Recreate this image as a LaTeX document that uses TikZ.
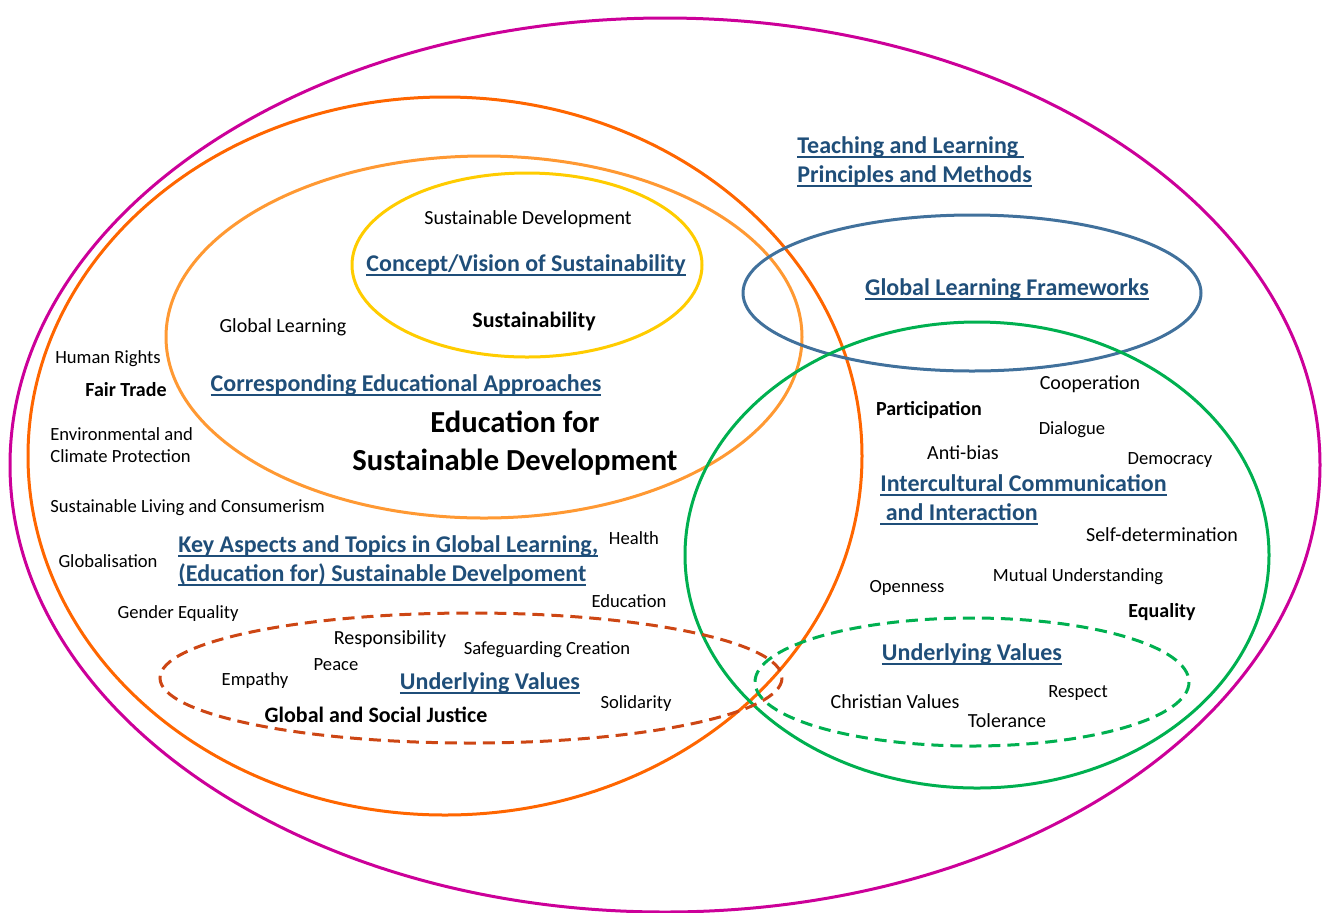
\documentclass[tikz,border=0pt]{standalone}
\usepackage{fontspec}
\setmainfont{Carlito}
\usepackage{tikz}
\usetikzlibrary{calc}

\definecolor{magentaring}{RGB}{204,0,153}
\definecolor{darkorange}{RGB}{255,102,0}
\definecolor{lightorange}{RGB}{255,153,51}
\definecolor{yellowring}{RGB}{255,204,0}
\definecolor{bluering}{RGB}{65,113,156}
\definecolor{greenring}{RGB}{0,176,80}
\definecolor{redring}{RGB}{205,70,20}
\definecolor{headblue}{RGB}{31,78,121}

% underline with a thicker rule
\newcommand{\ulin}[1]{\setbox0\hbox{#1}\rlap{\vrule height -1.3pt depth 2.2pt width\wd0}\box0}

\tikzset{
  ring/.style={line width=1.5pt},
  dashring/.style={line width=1.5pt, dash pattern=on 6pt off 3.5pt},
  txt/.style={inner sep=1pt, yshift=-1pt},
  lbl/.style={txt, font=\fontsize{10}{12}\selectfont},
  sml/.style={txt, font=\fontsize{9.3}{11.2}\selectfont, align=left},
  bld/.style={txt, font=\fontsize{11}{13}\selectfont\bfseries},
  bldsm/.style={txt, font=\fontsize{10}{12}\selectfont\bfseries},
  head/.style={txt, text=headblue, align=left, font=\fontsize{12}{14.5}\selectfont\bfseries},
  title/.style={txt, align=center, font=\fontsize{15.3}{19}\selectfont\bfseries}
}

\begin{document}
\begin{tikzpicture}[x=0.5pt, y=-0.5pt]
    \useasboundingbox (0,0) rectangle (1323,912);

    % Draw the rings
    \draw[ring, magentaring] (665,465) ellipse [x radius=655, y radius=447];
    \draw[ring, darkorange] (445,456) ellipse [x radius=417, y radius=359];
    \draw[ring, lightorange] (484,337) ellipse [x radius=318, y radius=181];
    \draw[ring, yellowring] (527,265) ellipse [x radius=175, y radius=92];
    \draw[ring, bluering] (972,293) ellipse [x radius=229, y radius=78];
    \draw[ring, greenring] (977,555) ellipse [x radius=292, y radius=233];
    \draw[dashring, greenring] (972,682) ellipse [x radius=217, y radius=64];
    \draw[dashring, redring] (471,678) ellipse [x radius=311, y radius=65];

    % Headings
    \node[head, anchor=west] (teach) at (795,160) {\ulin{Teaching and Learning }\\\ulin{Principles and Methods}};
    \node[head] (concept) at (526,263) {\ulin{Concept/Vision of Sustainability}};
    \node[head] (frame) at (1007,287) {\ulin{Global Learning Frameworks}};
    \node[head] (approach) at (406,383) {\ulin{Corresponding Educational Approaches}};
    \node[head, anchor=west] (keyasp) at (176,559) {\ulin{Key Aspects and Topics in Global Learning,}\\\ulin{(Education for) Sustainable Develpoment}};
    \node[head] (valleft) at (490,681) {\ulin{Underlying Values}};
    \node[head, anchor=west] (intercult) at (878,498) {\ulin{Intercultural Communication}\\\ulin{ and Interaction}};
    \node[head] (valright) at (972,652) {\ulin{Underlying Values}};
    \node[title] (esd) at (515,441) {Education for\\Sustainable Development};

    % Concept and approaches
    \node[lbl] (sdev) at (528,217) {Sustainable Development};
    \node[bld] (sust) at (534,319) {Sustainability};
    \node[lbl] (glearn) at (283,325) {Global Learning};

    % Key aspects and topics
    \node[sml] (rights) at (108,357) {Human Rights};
    \node[bldsm] (fair) at (126,388) {Fair Trade};
    \node[sml, anchor=west] (envir) at (48,443) {Environmental and\\Climate Protection};
    \node[sml, anchor=west] (living) at (48,506) {Sustainable Living and Consumerism};
    \node[sml] (global) at (108,559) {Globalisation};
    \node[sml] (health) at (634,536) {Health};
    \node[sml] (educ) at (629,599) {Education};
    \node[sml] (gender) at (178,612) {Gender Equality};

    % Underlying values (left)
    \node[lbl] (respons) at (390,637) {Responsibility};
    \node[sml] (safe) at (547,648) {Safeguarding Creation};
    \node[sml] (peace) at (336,663) {Peace};
    \node[sml] (empathy) at (255,679) {Empathy};
    \node[sml] (solid) at (636,702) {Solidarity};
    \node[bld] (justice) at (376,713) {Global and Social Justice};

    % Intercultural communication
    \node[lbl] (coop) at (1090,382) {Cooperation};
    \node[bldsm] (partic) at (929,408) {Participation};
    \node[sml] (dialog) at (1072,428) {Dialogue};
    \node[lbl] (antibias) at (963,451) {Anti-bias};
    \node[sml] (democ) at (1170,458) {Democracy};
    \node[lbl] (selfdet) at (1162,533) {Self-determination};
    \node[sml] (mutual) at (1078,575) {Mutual Understanding};
    \node[sml] (open) at (907,586) {Openness};
    \node[bldsm] (equal) at (1162,610) {Equality};

    % Underlying values (right)
    \node[lbl] (christ) at (895,700) {Christian Values};
    \node[sml] (respect) at (1078,691) {Respect};
    \node[lbl] (toler) at (1007,719) {Tolerance};
\end{tikzpicture}
\end{document}
